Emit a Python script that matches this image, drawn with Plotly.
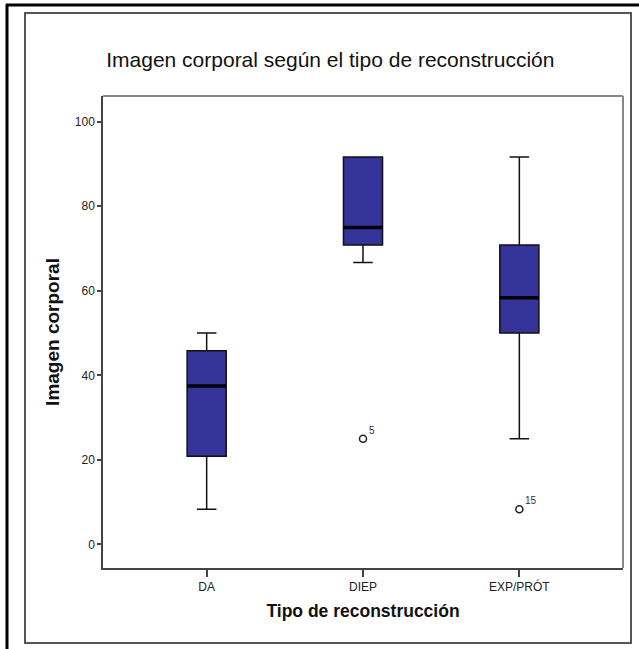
import plotly.graph_objects as go

categories = ["DA", "DIEP", "EXP/PRÓT"]
lower_whisker = [8.33, 66.67, 25.0]
q1_values = [20.83, 70.83, 50.0]
median_values = [37.5, 75.0, 58.33]
q3_values = [45.83, 91.67, 70.83]
upper_whisker = [50.0, 91.67, 91.67]
outlier_cat = [1, 2]
outlier_values = [25.0, 8.33]
outlier_labels = ["5", "15"]
y_ticks = [0, 20, 40, 60, 80, 100]

x_pos = list(range(len(categories)))
box_w = 0.25

fig = go.Figure()
fig.add_trace(go.Box(
    x=x_pos, q1=q1_values, median=median_values, q3=q3_values,
    lowerfence=lower_whisker, upperfence=upper_whisker,
    width=box_w, whiskerwidth=0.5,
    fillcolor="#333399", line=dict(color="#111111", width=1.5),
    boxpoints=False, showlegend=False, hoverinfo="skip",
))
# thick median lines
for i, m in enumerate(median_values):
    fig.add_trace(go.Scatter(
        x=[x_pos[i] - box_w / 2, x_pos[i] + box_w / 2], y=[m, m],
        mode="lines", line=dict(color="black", width=3.5),
        showlegend=False, hoverinfo="skip",
    ))
# outliers
fig.add_trace(go.Scatter(
    x=[x_pos[c] for c in outlier_cat], y=outlier_values,
    mode="markers", marker=dict(symbol="circle-open", size=7, color="#222222", line=dict(width=1.5)),
    showlegend=False, hoverinfo="skip",
))
for c, v, t in zip(outlier_cat, outlier_values, outlier_labels):
    fig.add_annotation(x=x_pos[c], y=v, text=t, showarrow=False,
                       xanchor="left", yanchor="bottom", xshift=4, yshift=1,
                       font=dict(family="Liberation Sans, Arial", size=10, color="#333333"))

fig.update_layout(
    width=639, height=649,
    margin=dict(l=103, r=16, t=96, b=81),
    paper_bgcolor="white", plot_bgcolor="white",
    font=dict(family="Liberation Sans, Arial", color="#222222"),
    title=dict(text="Imagen corporal según el tipo de reconstrucción",
               x=0.517, xanchor="center", y=1 - 60 / 649, yanchor="middle",
               font=dict(size=21, color="#111111")),
    xaxis=dict(range=[-0.663, 2.663], tickvals=x_pos, ticktext=categories,
               showgrid=False, zeroline=False, showline=True, linecolor="#444444", linewidth=1.5,
               ticks="outside", ticklen=7, tickcolor="#444444", tickwidth=1.5,
               tickfont=dict(size=12, color="#222222"),
               title=dict(text="<b>Tipo de reconstrucción</b>", font=dict(size=17.5, color="#111111"), standoff=12)),
    yaxis=dict(range=[-5.6, 106.1], tickvals=y_ticks,
               showgrid=False, zeroline=False, showline=True, linecolor="#444444", linewidth=1.5,
               ticks="outside", ticklen=4, tickcolor="#444444", tickwidth=1.5,
               tickfont=dict(size=12, color="#222222"),
               title=dict(text="<b>Imagen corporal</b>", font=dict(size=19, color="#111111"), standoff=10)),
)
# plot frame top/right (lighter)
fig.add_shape(type="line", xref="paper", yref="paper", x0=0, x1=1, y0=1, y1=1,
              line=dict(color="#888888", width=2))
fig.add_shape(type="line", xref="paper", yref="paper", x0=1, x1=1, y0=0, y1=1,
              line=dict(color="#888888", width=2))
# chart frame (gray) and outer black frame, in pixel-based paper coords
W, H = 639, 649
pw, ph = W - 103 - 16, H - 96 - 81
def px(x):
    return (x - 103) / pw
def py(y):
    return (H - 81 - y) / ph
fig.add_shape(type="rect", xref="paper", yref="paper", x0=px(25), x1=px(631), y0=py(643), y1=py(13),
              line=dict(color="#555555", width=2), layer="below")
fig.add_shape(type="line", xref="paper", yref="paper", x0=px(7), x1=px(7), y0=py(4), y1=py(660),
              line=dict(color="black", width=3))
fig.add_shape(type="line", xref="paper", yref="paper", x0=px(6), x1=px(650), y0=py(5), y1=py(5),
              line=dict(color="black", width=3))

fig.write_html("out.html", config={"displayModeBar": False},
               post_script="document.body.style.margin='0';document.body.style.overflow='hidden';")
